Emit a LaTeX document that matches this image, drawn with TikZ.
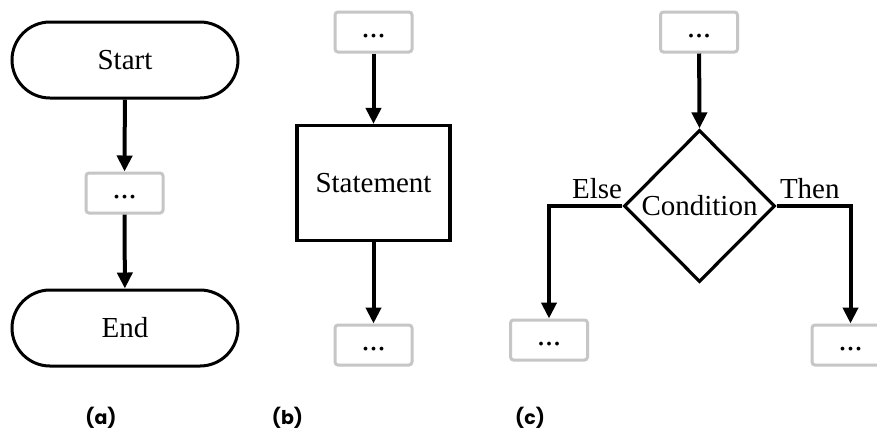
\documentclass[tikz,border=0pt]{standalone}
\usepackage{fontspec}
\setmainfont{Liberation Serif}
\newfontfamily\capfont{Poppins}
\usetikzlibrary{shapes.geometric,arrows.meta}
\begin{document}
\begin{tikzpicture}[x=0.5pt,y=-0.5pt,
  txt/.style={font=\fontsize{14.5pt}{17pt}\selectfont},
  term/.style={txt,draw,line width=1.5pt,rounded corners=19pt,minimum width=113pt,minimum height=38pt,inner sep=0pt},
  dots/.style={font=\fontsize{16pt}{18pt}\selectfont,draw=gray!45,line width=1.5pt,rounded corners=1.5pt,minimum width=38.5pt,minimum height=20pt,inner sep=0pt,text height=10pt,text depth=5pt},
  stmtbox/.style={txt,draw,line width=1.6pt,minimum width=76.5pt,minimum height=57.5pt,inner sep=0pt},
  cond/.style={txt,draw,diamond,aspect=1,line width=1.6pt,minimum width=75.5pt,minimum height=76pt,inner sep=0pt},
  arr/.style={line width=2pt,-{Triangle[length=8pt,width=7.5pt]}},
  capt/.style={font=\capfont\bfseries\fontsize{9.5pt}{11pt}\selectfont}
]
\useasboundingbox[fill=white] (0,0) rectangle (877,430);
% (a)
\node[term] (start) at (125,60) {Start};
\node[dots] (ga) at (124.5,193) {...};
\node[term] (end) at (125,328) {End};
\draw[arr] (start) -- (ga);
\draw[arr] (ga) -- (end);
% (b)
\node[dots] (gb1) at (373.5,32) {...};
\node[stmtbox] (stmt) at (373.5,183) {Statement};
\node[dots] (gb2) at (373.5,345) {...};
\draw[arr] (gb1) -- (stmt);
\draw[arr] (stmt) -- (gb2);
% (c)
\node[dots] (gc) at (699,32) {...};
\node[cond] (cnd) at (699.5,206) {Condition};
\node[dots] (gl) at (549,340) {...};
\node[dots] (gr) at (850.5,345) {...};
\draw[arr] (gc) -- (cnd.north);
\draw[arr] (cnd.west) -| (gl.north);
\draw[arr] (cnd.east) -| (gr.north);
\node[txt,anchor=base east,inner sep=0pt] (elselbl) at ([yshift=4pt]cnd.west) {Else};
\node[txt,anchor=base west,inner sep=0pt] (thenlbl) at ([xshift=1.5pt,yshift=4pt]cnd.east) {Then};
% captions
\node[capt] (ca) at (101,418) {(a)};
\node[capt] (cb) at (287.5,418) {(b)};
\node[capt] (cc) at (530,418) {(c)};
\end{tikzpicture}
\end{document}
